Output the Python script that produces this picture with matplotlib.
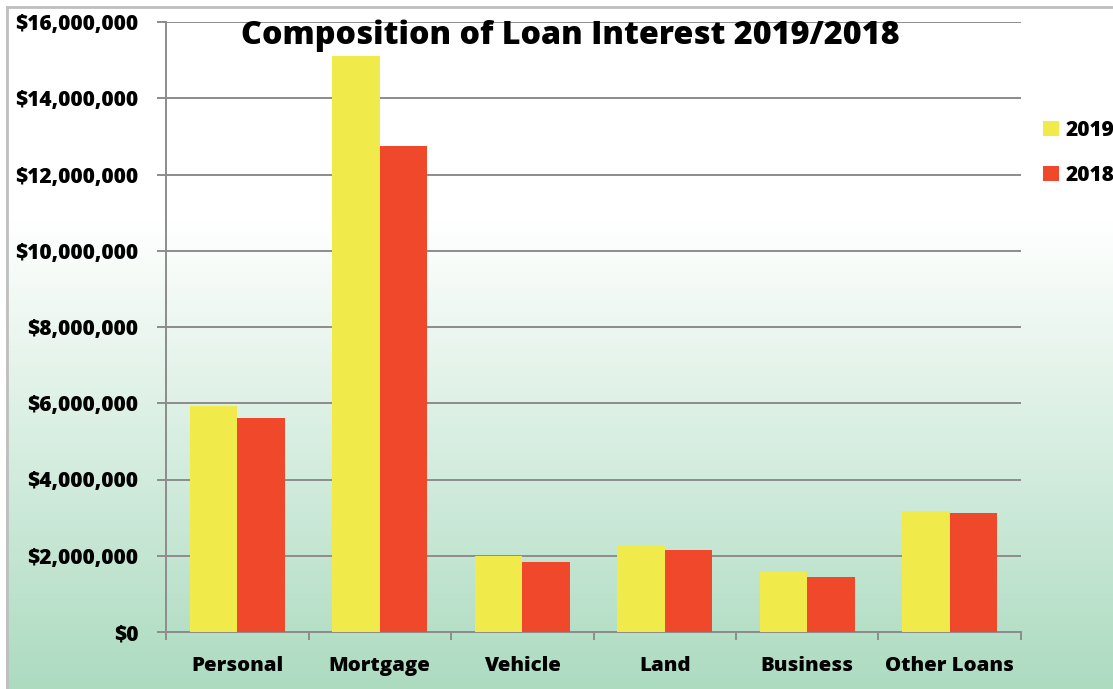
import matplotlib.pyplot as plt
import numpy as np

categories = ['Personal', 'Mortgage', 'Vehicle', 'Land', 'Business', 'Other Loans']
interest_2019 = [5940000, 15120000, 2000000, 2260000, 1580000, 3180000]
interest_2018 = [5620000, 12750000, 1840000, 2150000, 1440000, 3120000]
years = ['2019', '2018']
colors = ['#F0EA4A', '#EF482A']

plt.rcParams['font.family'] = ['Open Sans', 'DejaVu Sans']
plt.rcParams['font.weight'] = 800

W, H = 1113, 689
fig = plt.figure(figsize=(W / 100, H / 100), dpi=100)

# chart area background: white fading into pale green toward the bottom
bg = fig.add_axes([0, 0, 1, 1], zorder=-2)
rows = np.arange(H)
t = np.clip((rows - 220) / (H - 220), 0, 1)
top = np.array([1.0, 1.0, 1.0])
bottom = np.array([172, 219, 192]) / 255
grad = top[None, :] * (1 - t[:, None]) + bottom[None, :] * t[:, None]
img = np.repeat(grad[:, None, :], W, axis=1)
img[:, :6] = 1.0
img[:6, :] = 1.0
bg.imshow(img, aspect='auto', extent=[0, W, H, 0])
bg.plot([6.5, 6.5], [6.5, H], color='#BFBFBF', lw=2)
bg.plot([6.5, W], [6.5, 6.5], color='#BFBFBF', lw=2)
bg.set_xlim(0, W)
bg.set_ylim(H, 0)
bg.axis('off')

ax = fig.add_axes([166 / W, 1 - 632 / H, 855 / W, 610 / H])
ax.set_facecolor('none')

x = np.arange(len(categories))
bw = 1 / 3
ax.bar(x - bw / 2, interest_2019, bw, color=colors[0], label=years[0], zorder=3)
ax.bar(x + bw / 2, interest_2018, bw, color=colors[1], label=years[1], zorder=3)

ax.set_xlim(-0.5, len(categories) - 0.5)
ax.set_ylim(0, 16000000)
yt = np.arange(0, 16000001, 2000000)
ax.set_yticks(yt)
ax.set_yticklabels(['${:,.0f}'.format(v) for v in yt])
ax.yaxis.grid(True, color='#8C8C8C', lw=1.4, zorder=1)

ax.set_xticks(np.arange(-0.5, len(categories), 1))
ax.set_xticklabels([])
ax.set_xticks(x, minor=True)
ax.set_xticklabels(categories, minor=True)
ax.tick_params(axis='x', which='minor', length=0, pad=17, labelsize=14.7)
ax.tick_params(axis='x', which='major', length=6, width=1.4, color='#8C8C8C')
ax.tick_params(axis='y', length=6.5, width=1.4, color='#8C8C8C', pad=13.5, labelsize=15)

for side in ['top', 'right']:
    ax.spines[side].set_visible(False)
for side in ['left', 'bottom']:
    ax.spines[side].set_color('#8C8C8C')
    ax.spines[side].set_linewidth(1.4)

fig.text(570 / W, 1 - 36 / H, 'Composition of Loan Interest 2019/2018',
         ha='center', va='center', fontsize=23.2, fontweight=800)

ax.legend(loc='upper left', bbox_to_anchor=(1043 / W, 1 - 120 / H),
          bbox_transform=fig.transFigure, frameon=False, fontsize=15,
          handlelength=0.75, handleheight=0.75, handletextpad=0.35,
          labelspacing=1.15, borderpad=0, borderaxespad=0)

fig.savefig('out.png', dpi=100)
